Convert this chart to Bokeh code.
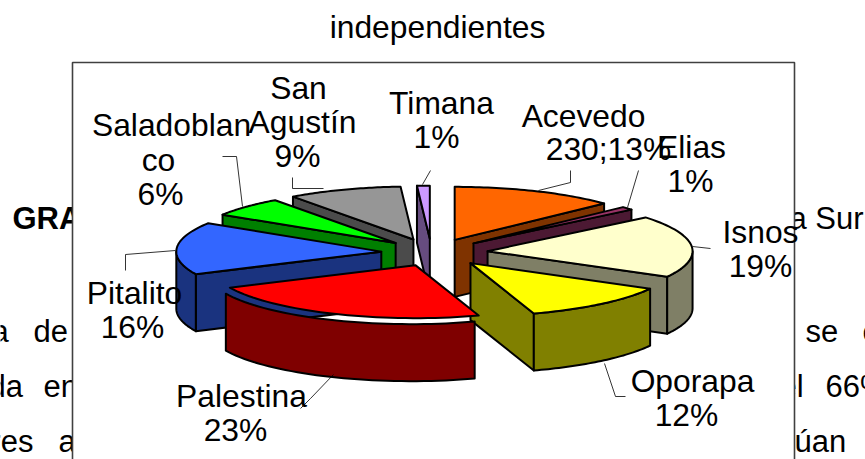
import math
from bokeh.plotting import figure
from bokeh.models import Range1d
from bokeh.core.properties import value
from bokeh.embed import file_html
from bokeh.resources import INLINE

# ---- data ----
names = ["Acevedo", "Elias", "Isnos", "Oporapa", "Palestina", "Pitalito", "Saladoblanco", "San Agustín", "Timana"]
percents = [13, 1, 19, 12, 23, 16, 6, 9, 1]
top_colors = ["#ff6600", "#993366", "#ffffcc", "#ffff00", "#ff0000", "#3366ff", "#00ff00", "#969696", "#cc99ff"]
side_colors = ["#7f3300", "#4c1933", "#7f7f66", "#808000", "#7f0000", "#1a337f", "#007f00", "#4b4b4b", "#664c7f"]
paint_order = ["Timana", "San Agustín", "Saladoblanco", "Pitalito", "Acevedo", "Elias", "Isnos", "Oporapa", "Palestina"]
title = "independientes"
label_lines = {
    "San Agustín": ["San", "Agustín", "9%"],
    "Saladoblanco": ["Saladoblan", "co", "6%"],
    "Timana": ["Timana", "1%"],
    "Acevedo": ["Acevedo", "230;13%"],
    "Elias": ["Elias", "1%"],
    "Isnos": ["Isnos", "19%"],
    "Oporapa": ["Oporapa", "12%"],
    "Palestina": ["Palestina", "23%"],
    "Pitalito": ["Pitalito", "16%"],
}
# ---- layout (screen-like coordinates) ----
CX, CY, RX, RY, DEPTH, EXPLODE = 437, 252, 205, 53, 57, 0.26
MID = 10.5  # alphabetic baseline to text middle
nudge = {"Timana": -6, "San Agustín": -6, "Saladoblanco": -3, "Pitalito": -3,
         "Acevedo": -4, "Elias": -4, "Isnos": -3, "Oporapa": -1, "Palestina": -1}
label_pos = {
    "San Agustín": [(298, 98), (302, 132), (297, 166)],
    "Saladoblanco": [(171, 135), (158, 170), (160, 204)],
    "Timana": [(441, 113), (436, 147)],
    "Acevedo": [(583, 126), (608, 159)],
    "Elias": [(691, 157), (690, 191)],
    "Isnos": [(760, 242), (760, 276)],
    "Oporapa": [(692, 391), (686, 425)],
    "Palestina": [(241, 406), (235, 440)],
    "Pitalito": [(134, 303), (132, 337)],
}
leaders = {
    "Acevedo": ([538, 570, 570], [190, 182, 170]),
    "Elias": ([627, 638], [207, 170]),
    "Isnos": ([692, 710], [246, 248]),
    "Oporapa": ([604, 615, 625], [363, 396, 396]),
    "Palestina": ([333, 310, 300], [374, 398, 408]),
    "Pitalito": ([175, 125, 125], [250, 254, 270]),
    "Saladoblanco": ([242, 236, 222], [206, 156, 156]),
    "San Agustín": ([323, 292, 292], [188, 188, 177]),
    "Timana": ([422, 430], [184, 170]),
}
page_text = [
    ("GRA", 12, 228, "bold"), ("a Sur", 789, 228, "normal"),
    ("a", -9, 341, "normal"), ("de", 33, 341, "normal"), ("se", 805, 341, "normal"), ("c", 862, 341, "normal"),
    ("da", -12, 396, "normal"), ("en", 43, 396, "normal"), ("el", 779, 396, "normal"), ("66%", 825, 396, "normal"),
    ("res", -10, 451, "normal"), ("a", 58, 451, "normal"), ("úan", 794, 451, "normal"),
]
FONT = value("Liberation Sans")

p = figure(width=865, height=459, x_range=Range1d(0, 865), y_range=Range1d(459, 0),
           output_backend="svg", toolbar_location=None, min_border=0)
p.xaxis.visible = False
p.yaxis.visible = False
p.grid.visible = False
p.outline_line_color = None
p.background_fill_color = "white"

# document text behind the chart
for txt, x, y, weight in page_text:
    p.text([x], [y - MID], text=[txt], text_font=FONT, text_font_size="31px", text_font_style=weight,
           text_color="#000000", text_baseline="middle", text_align="left")
# chart area
p.quad(left=[72], right=[794], top=[62], bottom=[480], fill_color="white", line_color="#404040", line_width=1.6)

p.text([437], [37 - MID], text=[title], text_font=FONT, text_font_size="31.8px", text_color="black",
       text_baseline="middle", text_align="center")


def pt(theta_deg, frac=1.0):
    t = math.radians(theta_deg)
    return RX * frac * math.sin(t), -RY * frac * math.cos(t)


def arc(a, b, ox, oy, n=40):
    pts = [pt(a + (b - a) * i / n) for i in range(n + 1)]
    return [ox + x for x, _ in pts], [oy + y for _, y in pts]


total = sum(percents)
spans = {}
acc = 0
for nm, pc in zip(names, percents):
    spans[nm] = (acc * 360 / total, (acc + pc) * 360 / total)
    acc += pc

for nm in paint_order:
    i = names.index(nm)
    a, b = spans[nm]
    mx, my = pt((a + b) / 2, EXPLODE)
    ox, oy = CX + mx + nudge[nm], CY + my
    # Palestina's wall sits slightly off its top face, as in the picture
    wx, wy = (-4, 6) if nm == "Palestina" else (0, 0)
    xs, ys = [], []
    if b < 180:  # visible cut face at the end of the sweep
        ex, ey = pt(b)
        xs.append([ox, ox + ex, ox + ex, ox])
        ys.append([oy, oy + ey, oy + ey + DEPTH, oy + DEPTH])
    if a > 180:  # visible cut face at the start of the sweep
        ex, ey = pt(a)
        xs.append([ox, ox + ex, ox + ex, ox])
        ys.append([oy, oy + ey, oy + ey + DEPTH, oy + DEPTH])
    lo, hi = max(a, 90), min(b, 270)
    if lo < hi:  # visible rim
        ax, ay = arc(lo, hi, ox + wx, oy + wy)
        xs.append(ax + ax[::-1])
        ys.append(ay + [y + DEPTH for y in ay[::-1]])
    if xs:
        p.patches(xs, ys, fill_color=side_colors[i], line_color="black", line_width=2, line_join="round")
    ax, ay = arc(a, b, ox, oy)
    p.patch([ox] + ax, [oy] + ay, fill_color=top_colors[i], line_color="black", line_width=2, line_join="round")

for nm, (lx, ly) in leaders.items():
    p.line(lx, ly, line_color="#000000", line_width=0.8)

for nm, lines in label_lines.items():
    for line, (x, y) in zip(lines, label_pos[nm]):
        p.text([x], [y - MID], text=[line], text_font=FONT, text_font_size="31.8px", text_color="black",
               text_baseline="middle", text_align="center")

open("out.html", "w").write(file_html(p, INLINE))
